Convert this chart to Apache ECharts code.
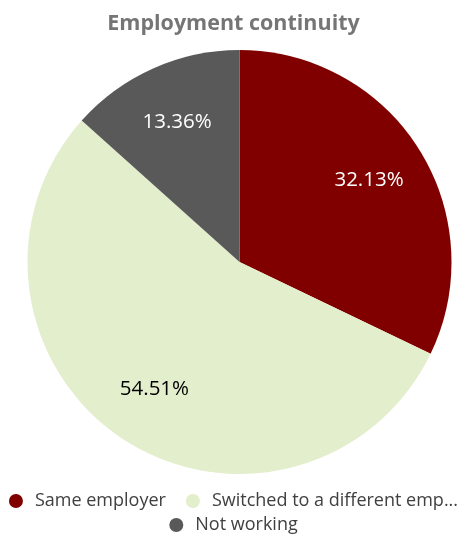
<!DOCTYPE html>
<html>
<head>
<meta charset="utf-8">
<script src="https://cdn.jsdelivr.net/npm/echarts@6/dist/echarts.min.js"></script>
<style>
  html, body { margin: 0; padding: 0; background: #ffffff; }
  #chart { width: 467px; height: 536px; }
</style>
</head>
<body>
<div id="chart"></div>
<script>
// Employment status shares (percent)
const categories = ['Same employer', 'Switched to a different employer', 'Not working'];
const shares = [32.13, 54.51, 13.36];
const colors = ['#800000', '#e3eecd', '#595959'];
const labelColors = ['#ffffff', '#000000', '#ffffff'];

const FONT = '"Open Sans", "Noto Sans", sans-serif';
const center = [239.5, 262];
const radius = 212;

const pieData = categories.map((name, i) => ({
  name: name,
  value: shares[i],
  itemStyle: { color: colors[i] }
}));

// Transparent ring used only to place the percentage labels further out
const labelData = categories.map((name, i) => ({
  name: name,
  value: shares[i],
  itemStyle: { color: 'rgba(0,0,0,0)' },
  label: { color: labelColors[i] }
}));

const chart = echarts.init(document.getElementById('chart'), null, { renderer: 'canvas' });

const legendText = {
  fontFamily: FONT,
  fontSize: 18,
  color: '#404040',
  width: 250,
  overflow: 'truncate',
  ellipsis: '...',
  padding: [0, 0, 0, 7]
};

chart.setOption({
  animation: false,
  title: {
    text: 'Employment continuity',
    left: 'center',
    top: 8,
    textStyle: { fontFamily: FONT, fontSize: 21.5, fontWeight: 'bold', color: '#757575' }
  },
  legend: [
    {
      data: [categories[0], categories[1]],
      left: 'center',
      top: 487,
      icon: 'circle',
      itemWidth: 14,
      itemHeight: 14,
      itemGap: 20,
      selectedMode: false,
      textStyle: legendText
    },
    {
      data: [categories[2]],
      left: 'center',
      top: 511,
      icon: 'circle',
      itemWidth: 14,
      itemHeight: 14,
      selectedMode: false,
      textStyle: legendText
    }
  ],
  series: [
    {
      type: 'pie',
      center: center,
      radius: [0, radius],
      startAngle: 90,
      clockwise: true,
      data: pieData,
      label: { show: false },
      labelLine: { show: false },
      emphasis: { disabled: true }
    },
    {
      type: 'pie',
      center: center,
      radius: [88, radius],
      startAngle: 90,
      clockwise: true,
      silent: true,
      data: labelData,
      legendHoverLink: false,
      label: {
        show: true,
        position: 'inside',
        formatter: p => p.value.toFixed(2) + '%',
        fontFamily: FONT,
        fontSize: 20.5
      },
      labelLine: { show: false },
      emphasis: { disabled: true }
    }
  ]
});
</script>
</body>
</html>
